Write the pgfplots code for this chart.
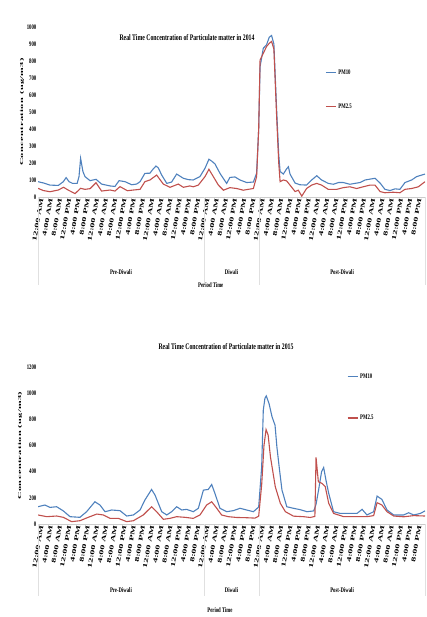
\documentclass[border=0pt]{standalone}
\usepackage{fontspec}
\setmainfont{Liberation Serif}
\newfontfamily\cond{Liberation Serif}[FakeStretch=0.68]
\newfontfamily\tickf{Liberation Serif}[FakeStretch=1.7]
\newfontfamily\ylabf{Liberation Serif}[FakeStretch=2.3,LetterSpace=8]
\usepackage{pgfplots}
\pgfplotsset{compat=1.18}
\definecolor{pmten}{HTML}{4F81BD}
\definecolor{pmtwo}{HTML}{C0504D}

\pgfplotstableread{
h v
0 90
2.5 82
5.2 70
8.8 68
11 90
12.2 114
13.5 90
15 80
17 80
17.8 120
18.5 227
19.5 150
20.4 120
22.6 96
25.2 104
27.6 76
31.3 65
33.4 62
35.2 96
37.8 90
40.7 72
42.8 76
44.3 90
46.4 139
48.6 140
50.0 165
51.2 182
52.2 172
53.7 129
55.9 80
58 88
60.2 135
63.1 110
65.3 102
67.4 100
70.3 120
72.5 169
74.2 222
75.5 210
76.8 195
79.0 139
81.9 80
83.3 115
85.5 118
87.7 100
90.6 85
93.5 88
94.9 140
95.8 400
96.4 766
97.8 875
99.2 895
100.4 940
101.4 950
102.4 900
103.6 510
104.5 250
105.1 150
106.5 135
107.9 165
108.7 178
109.4 135
111.6 82
113.7 72
116.6 70
118.8 100
121.0 125
123.1 100
126.0 80
128.2 75
130.4 85
132.5 85
135.4 75
137.6 80
139.8 85
142.0 100
144.1 105
146.3 110
148.5 82
150.6 45
152.8 38
155.0 48
157.1 45
159.3 85
162.2 100
164.4 120
168 135
}\pmtenA

\pgfplotstableread{
h v
0 51
2.3 38
5.2 31
8.8 41
11.1 57
13.2 40
16.1 20
18.5 51
20.4 45
22.6 49
25.2 84
27.6 35
31.3 41
33.4 35
35.6 61
38.8 37
41.4 41
44.3 45
46.4 90
48.6 100
51.5 129
54.4 76
57.3 57
60.9 76
63.1 57
65.9 65
67.4 60
69.6 70
72.5 120
74.2 163
76.1 120
78.3 70
80.5 40
83.3 55
86.2 50
89.1 40
93.5 50
94.9 120
95.8 400
96.4 806
97.8 845
99.2 885
100.4 904
101.4 915
102.4 870
103.6 472
104.5 200
105.1 90
106.5 100
107.9 95
109.4 70
111.6 32
113.0 40
114.5 5
116.6 50
118.8 70
121.0 80
123.1 70
126.0 45
129.7 45
132.5 55
135.4 60
138.3 50
141.2 60
144.1 70
146.3 70
148.5 32
150.6 25
154.2 28
157.1 25
159.3 45
162.2 50
165.1 60
168 90
}\pmtwoA

\pgfplotstableread{
h v
0 132
3.0 145
5.2 127
8.1 132
11.0 100
13.9 56
18.2 51
21.1 94
24.7 170
26.9 145
29.1 94
32.0 107
35.6 102
38.5 61
41.4 69
44.3 107
46.4 183
49.3 264
50.8 221
53.7 94
55.9 69
58.0 94
60.2 132
62.4 107
64.5 112
67.4 94
69.6 120
71.8 259
73.9 264
75.4 302
76.8 234
79.0 120
81.9 94
84.8 102
87.7 120
90.6 107
93.5 94
95.8 130
97.1 437
97.8 870
98.5 960
99.1 979
100.3 920
101.6 819
102.9 755
103.7 590
104.8 420
105.9 260
108.0 132
110.9 120
113.7 110
116.8 94
119.7 100
120.7 150
121.8 260
123.1 400
124.0 432
125.0 336
126.2 234
128.3 94
131.2 81
134.1 81
136.3 81
138.5 81
140.7 112
142.8 69
145.7 94
147.2 213
149.3 188
151.5 107
154.4 69
158.7 69
160.9 86
163.1 69
166.0 81
168 100
}\pmtenB

\pgfplotstableread{
h v
0 69
3.8 56
8.1 61
11.0 51
14.6 18
18.2 25
21.8 51
25.5 76
28.4 69
31.3 43
34.9 43
38.5 18
41.4 25
45.7 69
49.3 132
51.5 94
54.4 36
57.3 43
60.2 56
63.8 51
67.4 43
70.3 69
73.2 145
75.4 170
77.6 120
79.7 69
82.6 56
86.2 50
90.6 48
94.2 45
95.8 60
97.1 300
98.1 600
99.0 722
99.9 680
100.9 514
103.0 285
105.2 158
107.4 94
110.9 60
115.2 56
118.2 50
120.2 58
120.7 509
121.7 323
123.3 310
124.7 285
126.2 158
128.3 81
132.7 56
137.1 56
142.8 56
145.7 64
147.2 163
149.3 145
151.5 94
154.4 61
158.7 55
163.1 64
168 61
}\pmtwoB

\pgfplotsset{
  pmstyle/.style={
    scale only axis, width=387pt,
    xmin=0, xmax=168, ymin=0,
    xtick={0,4,...,164},
    xticklabels={12:00 AM,4:00 AM,8:00 AM,12:00 PM,4:00 PM,8:00 PM,
                 12:00 AM,4:00 AM,8:00 AM,12:00 PM,4:00 PM,8:00 PM,
                 12:00 AM,4:00 AM,8:00 AM,12:00 PM,4:00 PM,8:00 PM,
                 12:00 AM,4:00 AM,8:00 AM,12:00 PM,4:00 PM,8:00 PM,
                 12:00 AM,4:00 AM,8:00 AM,12:00 PM,4:00 PM,8:00 PM,
                 12:00 AM,4:00 AM,8:00 AM,12:00 PM,4:00 PM,8:00 PM,
                 12:00 AM,4:00 AM,8:00 AM,12:00 PM,4:00 PM,8:00 PM},
    xticklabel style={font=\tickf\bfseries\fontsize{6}{6}\selectfont, rotate=80, anchor=east, inner sep=1pt, yshift=-4pt},
    yticklabel style={font=\cond\bfseries\fontsize{7}{8}\selectfont, inner sep=1.5pt},
    /pgf/number format/assume math mode=true,
    /pgf/number format/1000 sep={},
    axis x line*=bottom, axis y line*=left,
    y axis line style={draw=none},
    x axis line style={draw=black!20, -},
    major tick length=0pt,
    clip mode=individual,
    legend cell align=left,
    legend image code/.code={\draw[#1] (0pt,0pt) -- (10pt,0pt);},
    every axis plot/.append style={line width=1.1pt},
  }
}

\begin{document}
\begin{tikzpicture}
\path[use as bounding box] (0,0) rectangle (427pt,617pt);

% ---------- 2014 ----------
\begin{axis}[pmstyle, at={(38pt,420pt)}, anchor=south west, height=170pt,
  ymax=1000, ytick={0,100,...,1000},
  legend style={at={(0.742,0.762)}, anchor=north west, draw=none, fill=none,
    font=\cond\bfseries\fontsize{7}{8}\selectfont, row sep=24pt, inner sep=0pt},
]
\addplot[pmten] table[x=h,y=v] {\pmtenA};
\addlegendentry{PM10}
\addplot[pmtwo] table[x=h,y=v] {\pmtwoA};
\addlegendentry{PM2.5}
\foreach \s in {0,72,96,168} {
  \edef\tmp{\noexpand\draw[black!12, line width=0.5pt] (axis cs:\s,0) -- ++(0pt,-88pt);}\tmp
}
\node[font=\cond\bfseries\fontsize{7}{8}\selectfont] at ([yshift=-75pt]axis cs:36,0) {Pre-Diwali};
\node[font=\cond\bfseries\fontsize{7}{8}\selectfont] at ([yshift=-75pt]axis cs:84,0) {Diwali};
\node[font=\cond\bfseries\fontsize{7}{8}\selectfont] at ([yshift=-75pt]axis cs:132,0) {Post-Diwali};
\node[font=\cond\bfseries\fontsize{7}{8}\selectfont] at ([yshift=-88pt]axis cs:75,0) {Period Time};
\node[font=\ylabf\bfseries\fontsize{4.5}{5}\selectfont, rotate=90] at ([xshift=-16pt]rel axis cs:0,0.5) {Concentration (ug/m3)};
\end{axis}
\node[font=\cond\bfseries\fontsize{8.5}{9}\selectfont] at (187pt,579pt) {Real Time Concentration of Particulate matter in 2014};

% ---------- 2015 ----------
\begin{axis}[pmstyle, at={(38pt,93pt)}, anchor=south west, height=157pt,
  ymax=1200, ytick={0,200,...,1200},
  legend style={at={(0.798,0.971)}, anchor=north west, draw=none, fill=none,
    font=\cond\bfseries\fontsize{7}{8}\selectfont, row sep=31pt, inner sep=0pt},
]
\addplot[pmten] table[x=h,y=v] {\pmtenB};
\addlegendentry{PM10}
\addplot[pmtwo] table[x=h,y=v] {\pmtwoB};
\addlegendentry{PM2.5}
\foreach \s in {0,72,96,168} {
  \edef\tmp{\noexpand\draw[black!12, line width=0.5pt] (axis cs:\s,0) -- ++(0pt,-72pt);}\tmp
}
\node[font=\cond\bfseries\fontsize{7}{8}\selectfont] at ([yshift=-66pt]axis cs:36,0) {Pre-Diwali};
\node[font=\cond\bfseries\fontsize{7}{8}\selectfont] at ([yshift=-66pt]axis cs:84,0) {Diwali};
\node[font=\cond\bfseries\fontsize{7}{8}\selectfont] at ([yshift=-66pt]axis cs:132,0) {Post-Diwali};
\node[font=\cond\bfseries\fontsize{7}{8}\selectfont] at ([yshift=-86pt]axis cs:79,0) {Period Time};
\node[font=\ylabf\bfseries\fontsize{4.5}{5}\selectfont, rotate=90] at ([xshift=-18pt]rel axis cs:0,0.5) {Concentration (ug/m3)};
\end{axis}
\node[font=\cond\bfseries\fontsize{8.5}{9}\selectfont] at (226pt,270pt) {Real Time Concentration of Particulate matter in 2015};
\end{tikzpicture}
\end{document}
